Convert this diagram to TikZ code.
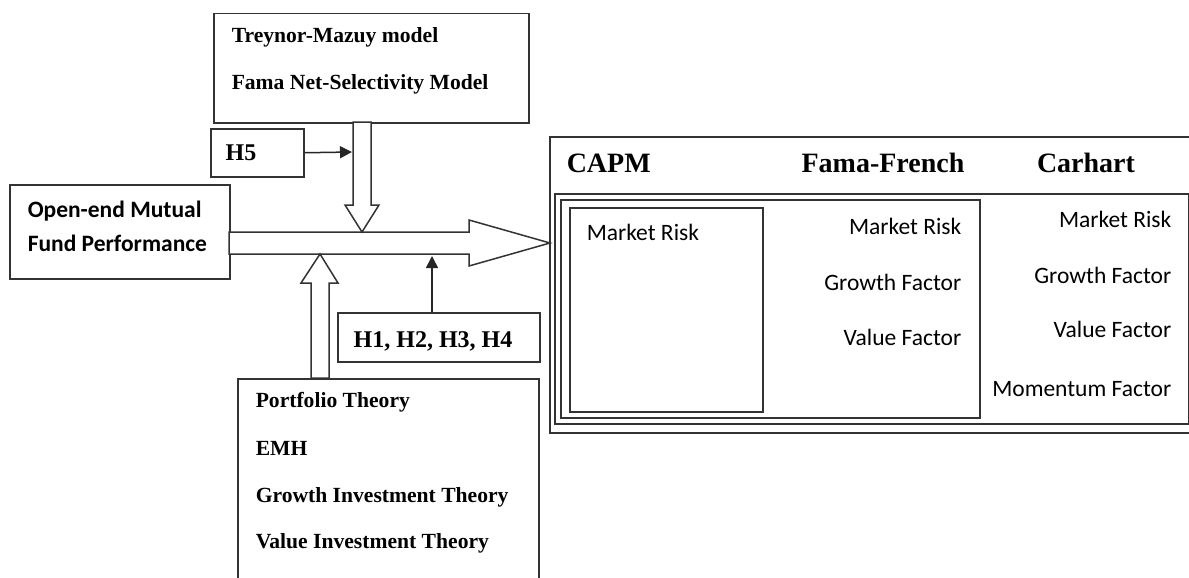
\documentclass[tikz,border=0pt]{standalone}
\usepackage{fontspec}
\setmainfont{Liberation Serif}
\newfontfamily\calibrifont{Carlito}
\usetikzlibrary{arrows.meta}

\begin{document}
\begin{tikzpicture}[x=1pt, y=-1pt, line width=1.5pt,
	box/.style={draw=black!80, rectangle, anchor=north west, inner sep=0pt},
	blockarrow/.style={draw=black!80, fill=white, line join=miter},
	thin arrow/.style={draw=black!85, -{Triangle[length=12pt, width=12pt]}},
	boldtxt/.style={anchor=base west, inner sep=0pt, font=\fontsize{21.6}{26}\selectfont\bfseries},
	hyptxt/.style={anchor=base, inner sep=0pt, font=\fontsize{24}{28}\selectfont\bfseries},
	sanstxt/.style={anchor=base west, inner sep=0pt, font=\calibrifont\fontsize{23.5}{28}\selectfont},
	modelhead/.style={anchor=base, inner sep=0pt, font=\fontsize{28}{32}\selectfont\bfseries}]

	\useasboundingbox (0,0) rectangle (1189,578);
	\clip (0,0) rectangle (1189,578);

	\def\shaftTop{232};
	\def\shaftBot{254};
	\def\headX{469};

	% boxes
	\node[box, minimum width=315pt, minimum height=109pt] (models) at (213,13) {};
	\node[box, minimum width=93pt, minimum height=48pt] (hfive) at (210,128) {};
	\node[box, minimum width=220pt, minimum height=94pt] (perf) at (9,184) {};
	\node[box, minimum width=202pt, minimum height=49pt] (hyp) at (337,312) {};
	\node[box, minimum width=301pt, minimum height=240pt] (theory) at (237,378) {};

	\node[box, minimum width=700pt, minimum height=296pt] (outer) at (549,136) {};
	\node[box, minimum width=634pt, minimum height=230pt] (carhart) at (554,193) {};
	\node[box, minimum width=419pt, minimum height=218pt] (famafrench) at (560,199) {};
	\node[box, minimum width=193pt, minimum height=204pt] (capm) at (569,207) {};

	% block arrows
	\draw[blockarrow] (229,\shaftTop) -- (\headX,\shaftTop) -- (\headX,220) -- (550,243) -- (\headX,266) -- (\headX,\shaftBot) -- (229,\shaftBot) -- cycle;
	\draw[blockarrow] (353,122) -- (353,205) -- (345,205) -- (362,\shaftTop) -- (379,205) -- (371,205) -- (371,122) -- cycle;
	\draw[blockarrow] (311,378) -- (311,283) -- (301,283) -- (320,\shaftBot) -- (338,283) -- (329,283) -- (329,378) -- cycle;

	\coordinate (shaftleft) at (352,152);
	\coordinate (shaftbelow) at (432,256);
	\draw[thin arrow] (hfive.east) -- (shaftleft);
	\draw[thin arrow] (hyp.north -| shaftbelow) -- (shaftbelow);

	% texts
	\node[boldtxt] (tm) at (231,43) {Treynor-Mazuy model};
	\node[boldtxt] (fns) at (231,89) {Fama Net-Selectivity Model};
	\node[hyptxt] (hfivetxt) at (241,160) {H5};
	\node[hyptxt] (hypline) at (433,347) {H1, H2, H3, H4};
	\node[sanstxt, font=\calibrifont\fontsize{23.5}{28}\selectfont\bfseries] (perf-1) at (27,217) {Open-end Mutual};
	\node[sanstxt, font=\calibrifont\fontsize{23.5}{28}\selectfont\bfseries] (perf-2) at (27,251) {Fund Performance};

	\foreach \txt/\yb [count=\i] in {Portfolio Theory/407, EMH/455, Growth Investment Theory/502, Value Investment Theory/548}
		\node[boldtxt] (th-\i) at (255,\yb) {\txt};

	\node[modelhead, anchor=base west] (capmhead) at (566,172) {CAPM};
	\node[modelhead] (ffhead) at (883,172) {Fama-French};
	\node[modelhead] (chhead) at (1086,172) {Carhart};

	\node[sanstxt] (capm-1) at (586,240) {Market Risk};
	\foreach \txt/\yb [count=\i] in {Market Risk/234, Growth Factor/290, Value Factor/345}
		\node[sanstxt, anchor=base east] (ff-\i) at (962,\yb) {\txt};
	\foreach \txt/\yb [count=\i] in {Market Risk/227, Growth Factor/283, Value Factor/337, Momentum Factor/396}
		\node[sanstxt, anchor=base east] (ch-\i) at (1172,\yb) {\txt};

\end{tikzpicture}
\end{document}
